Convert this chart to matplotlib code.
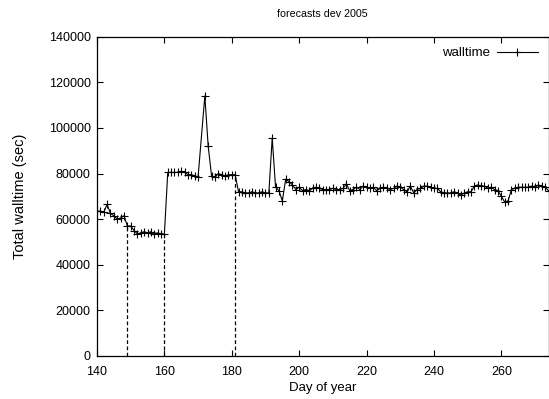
import matplotlib
matplotlib.use("Agg")
import matplotlib.pyplot as plt

days = list(range(140, 171)) + list(range(172, 275))
walltime = [
    63500, 63500, 63000, 66500, 62500, 61500, 60000, 60500, 61500, 57000,
    57000, 55000, 53500, 54000, 54500, 54000, 54500, 53500, 54000, 53500,
    53500, 80500, 80500, 80500, 80500, 81000, 80500, 79500, 79500, 79000,
    78500,
    114000, 92000, 79000, 78500, 80000, 79500, 79000, 79500, 79500, 79500,
    72000, 72000, 71500, 71500, 72000, 71500, 71500, 72000, 71500, 71500,
    95500, 74000, 72500, 68000, 77500, 76500, 75000, 73000, 74000, 72500,
    73000, 72500, 73500, 74000, 73500, 73000, 73000, 73000, 73500, 73000,
    73000, 73500, 75500, 72500, 73000, 74000, 73000, 74500, 74000, 73500,
    74000, 72500, 73500, 74000, 73500, 73000, 73500, 74500, 74000, 73000,
    72000, 74500, 71500, 73000, 73500, 74500, 74500, 74000, 73500, 73500,
    72000, 71500, 71500, 71500, 72000, 71500, 70500, 71500, 72000, 72000,
    74500, 75000, 74500, 74500, 73500, 74000, 73000, 72500, 70000, 67500,
    68000, 73000, 73500, 74000, 74000, 74000, 74000, 74500, 74000, 75000,
    74500, 74000, 72500,
]
event_days = [149, 160, 181]
xticks = [140, 160, 180, 200, 220, 240, 260]
yticks = [0, 20000, 40000, 60000, 80000, 100000, 120000, 140000]

plt.rcParams['font.family'] = ['Liberation Sans', 'DejaVu Sans']
fig = plt.figure(figsize=(5.49, 3.99), dpi=100)
ax = fig.add_axes([97/549, 43/399, 451.5/549, 319.3/399])

lookup = dict(zip(days, walltime))
for d in event_days:
    ax.plot([d, d], [0, lookup[d]], color='black', lw=0.9, ls=(0, (3, 2)))

ax.plot(days, walltime, color='black', lw=0.8, marker='+', ms=6, mew=0.8,
        label='walltime')

ax.set_xlim(140, 274)
ax.set_ylim(0, 140000)
ax.set_xticks(xticks)
ax.set_yticks(yticks)
ax.tick_params(direction='in', top=True, right=True, length=4.5, width=0.8,
               labelsize=9, pad=4.5)
ax.tick_params(axis='x', pad=7)
for s in ax.spines.values():
    s.set_linewidth(0.9)

ax.set_xlabel('Day of year', fontsize=9.5, labelpad=3)
ax.set_ylabel('Total walltime (sec)', fontsize=10.5, labelpad=16)
ax.set_title('forecasts dev 2005', fontsize=7.7, pad=14)

leg = ax.legend(loc='upper right', frameon=False, markerfirst=False,
                handlelength=3.1, fontsize=9.5, borderaxespad=0.4,
                handletextpad=0.55)

fig.savefig('out.png', dpi=100)
